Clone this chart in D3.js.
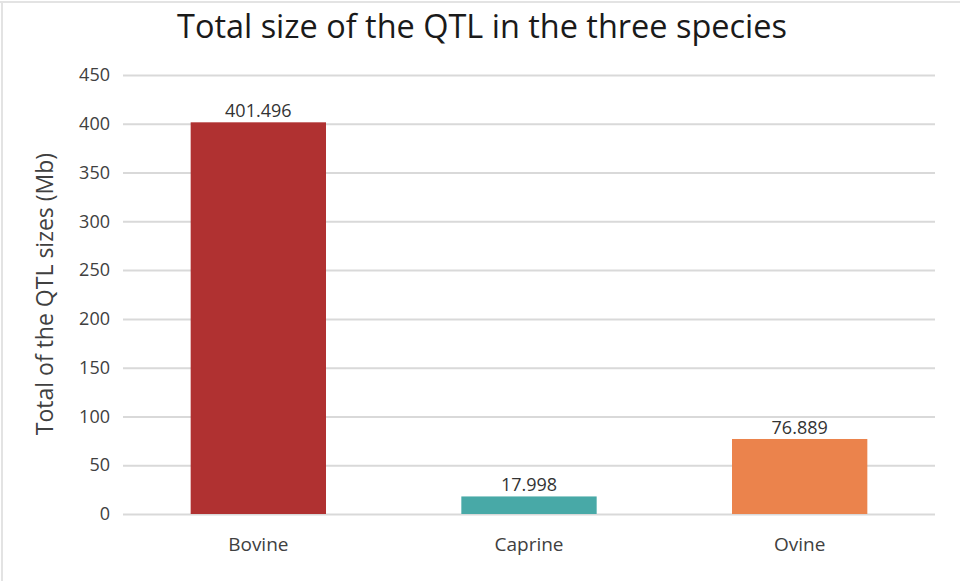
<!DOCTYPE html>
<html><head><meta charset="utf-8">
<script src="https://cdn.jsdelivr.net/npm/d3@7"></script>
<style>body{margin:0;background:#fff}svg{display:block}</style>
</head><body>
<svg id="c" width="960" height="581"></svg>
<script>
const categories = ["Bovine", "Caprine", "Ovine"];
const values = [401.496, 17.998, 76.889];
const valueLabels = ["401.496", "17.998", "76.889"];
const colors = ["#B03131", "#48A9A7", "#EB834C"];
const yTicks = [0, 50, 100, 150, 200, 250, 300, 350, 400, 450];

const svg = d3.select("#c");
const font = "'Open Sans', 'Noto Sans', sans-serif";
const m = {left: 123, right: 935, top: 75, bottom: 514};

svg.append("line").attr("x1", 0).attr("x2", 960).attr("y1", 2).attr("y2", 2).attr("stroke", "#e3e3e3").attr("stroke-width", 2);
svg.append("line").attr("x1", 2).attr("x2", 2).attr("y1", 2).attr("y2", 581).attr("stroke", "#e3e3e3").attr("stroke-width", 2);

const x = d3.scaleBand().domain(categories).range([m.left, m.right]).paddingInner(0.5).paddingOuter(0.25);
const y = d3.scaleLinear().domain([0, 450]).range([m.bottom, m.top]);

const yAxis = svg.append("g").attr("transform", `translate(${m.left},0)`)
  .call(d3.axisLeft(y).tickValues(yTicks).tickSize(-(m.right - m.left)).tickPadding(13));
yAxis.select(".domain").remove();
yAxis.selectAll(".tick line").attr("stroke", "#d9d9d9").attr("stroke-width", 2);
yAxis.selectAll(".tick text").attr("fill", "#404040").style("font-family", font).style("font-size", "18px");

svg.selectAll("rect.bar").data(categories).join("rect").attr("class", "bar")
  .attr("x", d => x(d)).attr("width", x.bandwidth())
  .attr("y", (d, i) => y(values[i])).attr("height", (d, i) => y(0) - y(values[i]))
  .attr("fill", (d, i) => colors[i]);

svg.selectAll("text.val").data(categories).join("text").attr("class", "val")
  .attr("x", d => x(d) + x.bandwidth() / 2).attr("y", (d, i) => y(values[i]) - 5)
  .attr("text-anchor", "middle").attr("fill", "#333")
  .style("font-family", font).style("font-size", "18px")
  .text((d, i) => valueLabels[i]);

const xAxis = svg.append("g").attr("transform", `translate(0,${m.bottom})`)
  .call(d3.axisBottom(x).tickSize(0).tickPadding(24));
xAxis.select(".domain").remove();
xAxis.selectAll(".tick text").attr("fill", "#404040").style("font-family", font).style("font-size", "19px");

svg.append("text").attr("x", 482).attr("y", 38).attr("text-anchor", "middle")
  .attr("fill", "#1a1a1a").style("font-family", font)
  .style("font-size", "32px").attr("textLength", 610).attr("lengthAdjust", "spacingAndGlyphs")
  .text("Total size of the QTL in the three species");

svg.append("text").attr("transform", "translate(53,294) rotate(-90)").attr("text-anchor", "middle")
  .attr("fill", "#404040").style("font-family", font).style("font-size", "23px")
  .text("Total of the QTL sizes (Mb)");
</script>
</body></html>
